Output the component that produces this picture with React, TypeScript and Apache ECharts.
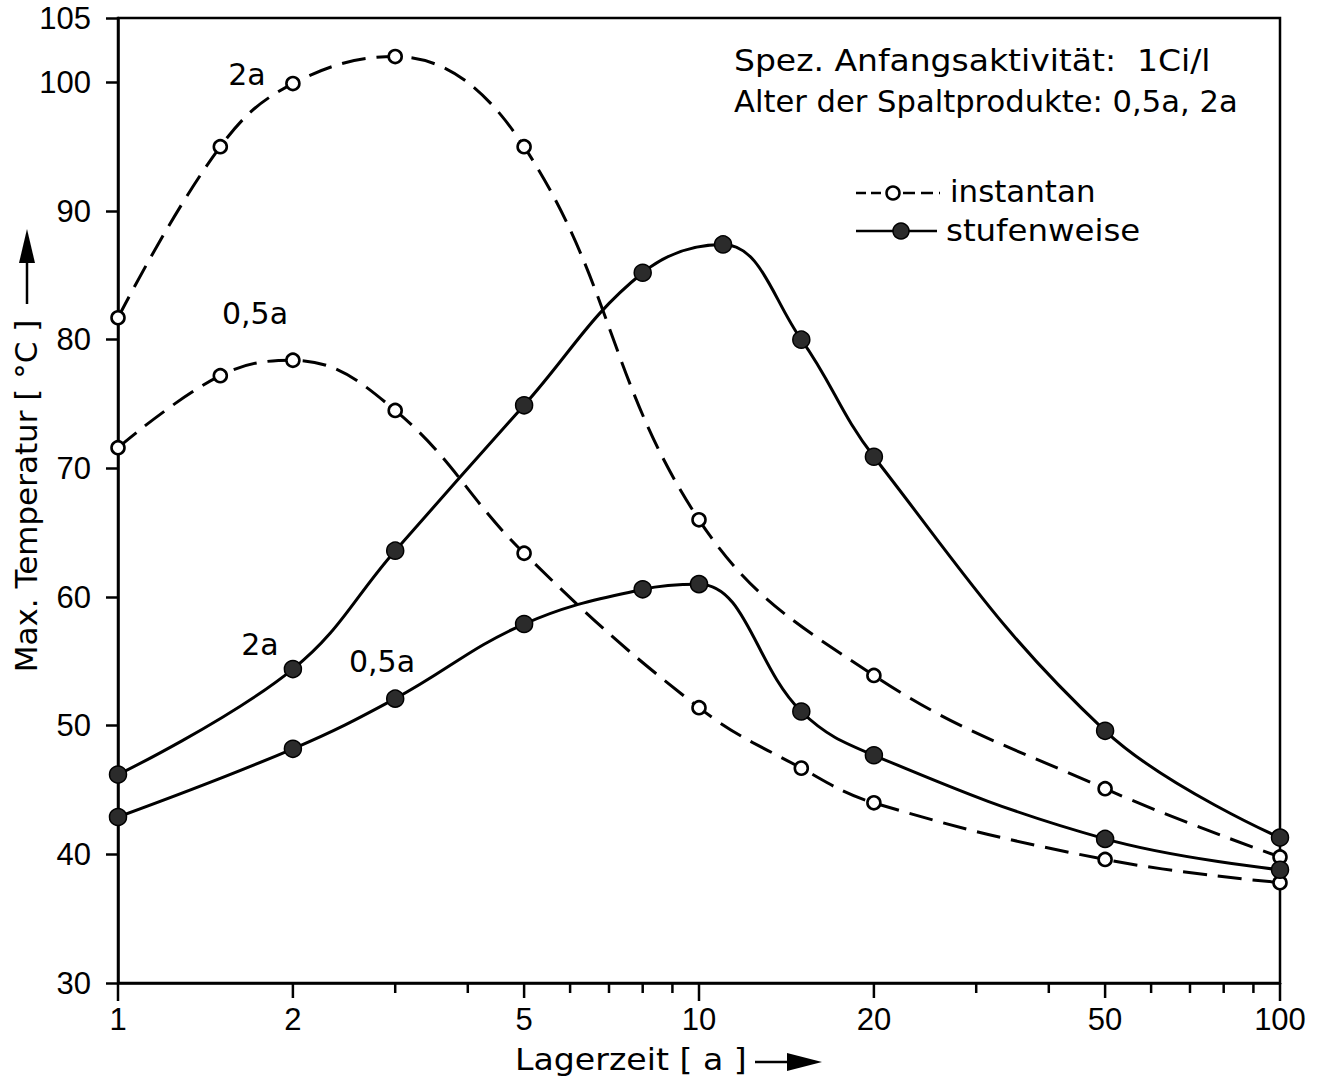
import React, { useEffect, useRef } from "react";
import * as echarts from "echarts";

// Lagerzeit [a] sampling points for each curve
const xInstantan2a = [1, 1.5, 2, 3, 5, 10, 20, 50, 100];
const yInstantan2a = [81.7, 95.0, 99.9, 102.0, 95.0, 66.0, 53.9, 45.1, 39.8];

const xInstantan05a = [1, 1.5, 2, 3, 5, 10, 15, 20, 50, 100];
const yInstantan05a = [71.6, 77.2, 78.4, 74.5, 63.4, 51.4, 46.7, 44.0, 39.6, 37.8];

const xStufen2a = [1, 2, 3, 5, 8, 11, 15, 20, 50, 100];
const yStufen2a = [46.2, 54.4, 63.6, 74.9, 85.2, 87.4, 80.0, 70.9, 49.6, 41.3];

const xStufen05a = [1, 2, 3, 5, 8, 10, 15, 20, 50, 100];
const yStufen05a = [42.9, 48.2, 52.1, 57.9, 60.6, 61.0, 51.1, 47.7, 41.2, 38.8];

// Log axis ticks: every integer step per decade, labels on 1-2-5
const xTickValues = [1, 2, 3, 4, 5, 6, 7, 8, 9, 10, 20, 30, 40, 50, 60, 70, 80, 90, 100];
const xTickLabels = [1, 2, 5, 10, 20, 50, 100];
const decadeTicks = [1, 10, 100];

const TEXT_FONT = "DejaVu Sans";
const NUM_FONT = "Liberation Sans";

const zip = (xs: number[], ys: number[]) => xs.map((x, i) => [x, ys[i]]);

export default function App() {
  const ref = useRef<HTMLDivElement>(null);

  useEffect(() => {
    document.body.style.margin = "0";
    const chart = echarts.init(ref.current!, null, { renderer: "svg" });

    const dashed = {
      type: "line",
      smooth: 0.4,
      symbol: "circle",
      symbolSize: 13,
      lineStyle: { color: "#000", width: 3, type: [24, 11] },
      itemStyle: { color: "#fff", borderColor: "#000", borderWidth: 2.6 },
      z: 3,
    };
    const solid = {
      type: "line",
      smooth: 0.4,
      symbol: "circle",
      symbolSize: 17,
      lineStyle: { color: "#000", width: 3, type: "solid" },
      itemStyle: { color: "#2b2b2b", borderColor: "#000", borderWidth: 1.5 },
      z: 3,
    };

    const txt = (text: string, x: number, y: number, extra: any = {}, sx = 1) => ({
      type: "text",
      x,
      y,
      scaleX: sx,
      style: {
        text,
        fill: "#000",
        font: `30px "${TEXT_FONT}"`,
        align: "center",
        verticalAlign: "middle",
        ...extra,
      },
      z: 10,
    });

    const option: any = {
      animation: false,
      backgroundColor: "#fff",
      grid: {
        left: 118,
        right: 39,
        top: 18,
        bottom: 100,
        show: true,
        borderColor: "#000",
        borderWidth: 2.5,
      },
      xAxis: {
        type: "log",
        logBase: 10,
        min: 1,
        max: 100,
        axisLine: { lineStyle: { color: "#000", width: 2.5 } },
        axisTick: { show: false },
        axisLabel: { show: false },
        splitLine: { show: false },
      },
      yAxis: {
        type: "value",
        min: 30,
        max: 105,
        interval: 10,
        axisLine: { show: true, lineStyle: { color: "#000", width: 2.5 } },
        axisTick: { show: true, length: 12, lineStyle: { color: "#000", width: 2.5 } },
        axisLabel: {
          color: "#000",
          fontFamily: NUM_FONT,
          fontSize: 31,
          margin: 27,
        },
        splitLine: { show: false },
      },
      series: [
        { ...dashed, name: "instantan 2a", data: zip(xInstantan2a, yInstantan2a) },
        { ...dashed, name: "instantan 0,5a", data: zip(xInstantan05a, yInstantan05a) },
        { ...solid, name: "stufenweise 2a", data: zip(xStufen2a, yStufen2a) },
        { ...solid, name: "stufenweise 0,5a", data: zip(xStufen05a, yStufen05a) },
        {
          // tick marks and labels of the logarithmic time axis
          type: "custom",
          silent: true,
          clip: false,
          data: xTickValues.map((v) => [v, 30]),
          renderItem: (_params: any, api: any) => {
            const v = api.value(0);
            const p = api.coord([v, 30]);
            const labeled = xTickLabels.includes(v);
            const len = decadeTicks.includes(v) ? 18 : labeled ? 15 : 10;
            const children: any[] = [
              {
                type: "line",
                shape: { x1: p[0], y1: p[1], x2: p[0], y2: p[1] + len },
                style: { stroke: "#000", lineWidth: 2.5 },
              },
            ];
            if (labeled) {
              children.push({
                type: "text",
                style: {
                  text: String(v),
                  x: p[0],
                  y: p[1] + 21,
                  align: "center",
                  verticalAlign: "top",
                  fill: "#000",
                  font: `31px "${NUM_FONT}"`,
                },
              });
            }
            return { type: "group", children };
          },
          z: 2,
        },
      ],
      graphic: [
        // header notes
        txt("Spez. Anfangsaktivität:  1Ci/l", 734, 61, { align: "left" }, 1.1),
        txt("Alter der Spaltprodukte: 0,5a, 2a", 734, 102, { align: "left" }, 1.02),
        // legend
        {
          type: "line",
          shape: { x1: 856, y1: 193, x2: 884, y2: 193 },
          style: { stroke: "#000", lineWidth: 2.5, lineDash: [10, 5] },
        },
        {
          type: "line",
          shape: { x1: 903, y1: 193, x2: 940, y2: 193 },
          style: { stroke: "#000", lineWidth: 2.5, lineDash: [12, 6] },
        },
        {
          type: "circle",
          shape: { cx: 893, cy: 193, r: 6.5 },
          style: { fill: "#fff", stroke: "#000", lineWidth: 2.5 },
        },
        txt("instantan", 950, 192, { align: "left" }, 1.03),
        {
          type: "line",
          shape: { x1: 856, y1: 231, x2: 937, y2: 231 },
          style: { stroke: "#000", lineWidth: 2.5 },
        },
        {
          type: "circle",
          shape: { cx: 901, cy: 231, r: 8 },
          style: { fill: "#2b2b2b", stroke: "#000", lineWidth: 1.5 },
        },
        txt("stufenweise", 946, 230, { align: "left" }, 1.08),
        // curve labels
        txt("2a", 247, 74),
        txt("0,5a", 255, 313),
        txt("2a", 260, 644),
        txt("0,5a", 382, 661),
        // y-axis title with arrow
        {
          type: "text",
          x: 26,
          y: 496,
          rotation: Math.PI / 2,
          style: {
            text: "Max. Temperatur [ °C ]",
            fill: "#000",
            font: `31px "${TEXT_FONT}"`,
            align: "center",
            verticalAlign: "middle",
          },
        },
        {
          type: "line",
          shape: { x1: 27, y1: 304, x2: 27, y2: 258 },
          style: { stroke: "#000", lineWidth: 2.5 },
        },
        {
          type: "polygon",
          shape: { points: [[27, 229], [19, 263], [35, 263]] },
          style: { fill: "#000" },
        },
        // x-axis title with arrow
        txt("Lagerzeit [ a ]", 515, 1059, { align: "left", font: `31px "${TEXT_FONT}"` }, 1.07),
        {
          type: "line",
          shape: { x1: 755, y1: 1062, x2: 790, y2: 1062 },
          style: { stroke: "#000", lineWidth: 2.5 },
        },
        {
          type: "polygon",
          shape: { points: [[787, 1053], [822, 1062], [787, 1071]] },
          style: { fill: "#000" },
        },
      ],
    };

    chart.setOption(option);
    return () => chart.dispose();
  }, []);

  return (
    <div
      ref={ref}
      style={{ position: "fixed", left: 0, top: 0, width: 1319, height: 1083 }}
    />
  );
}
